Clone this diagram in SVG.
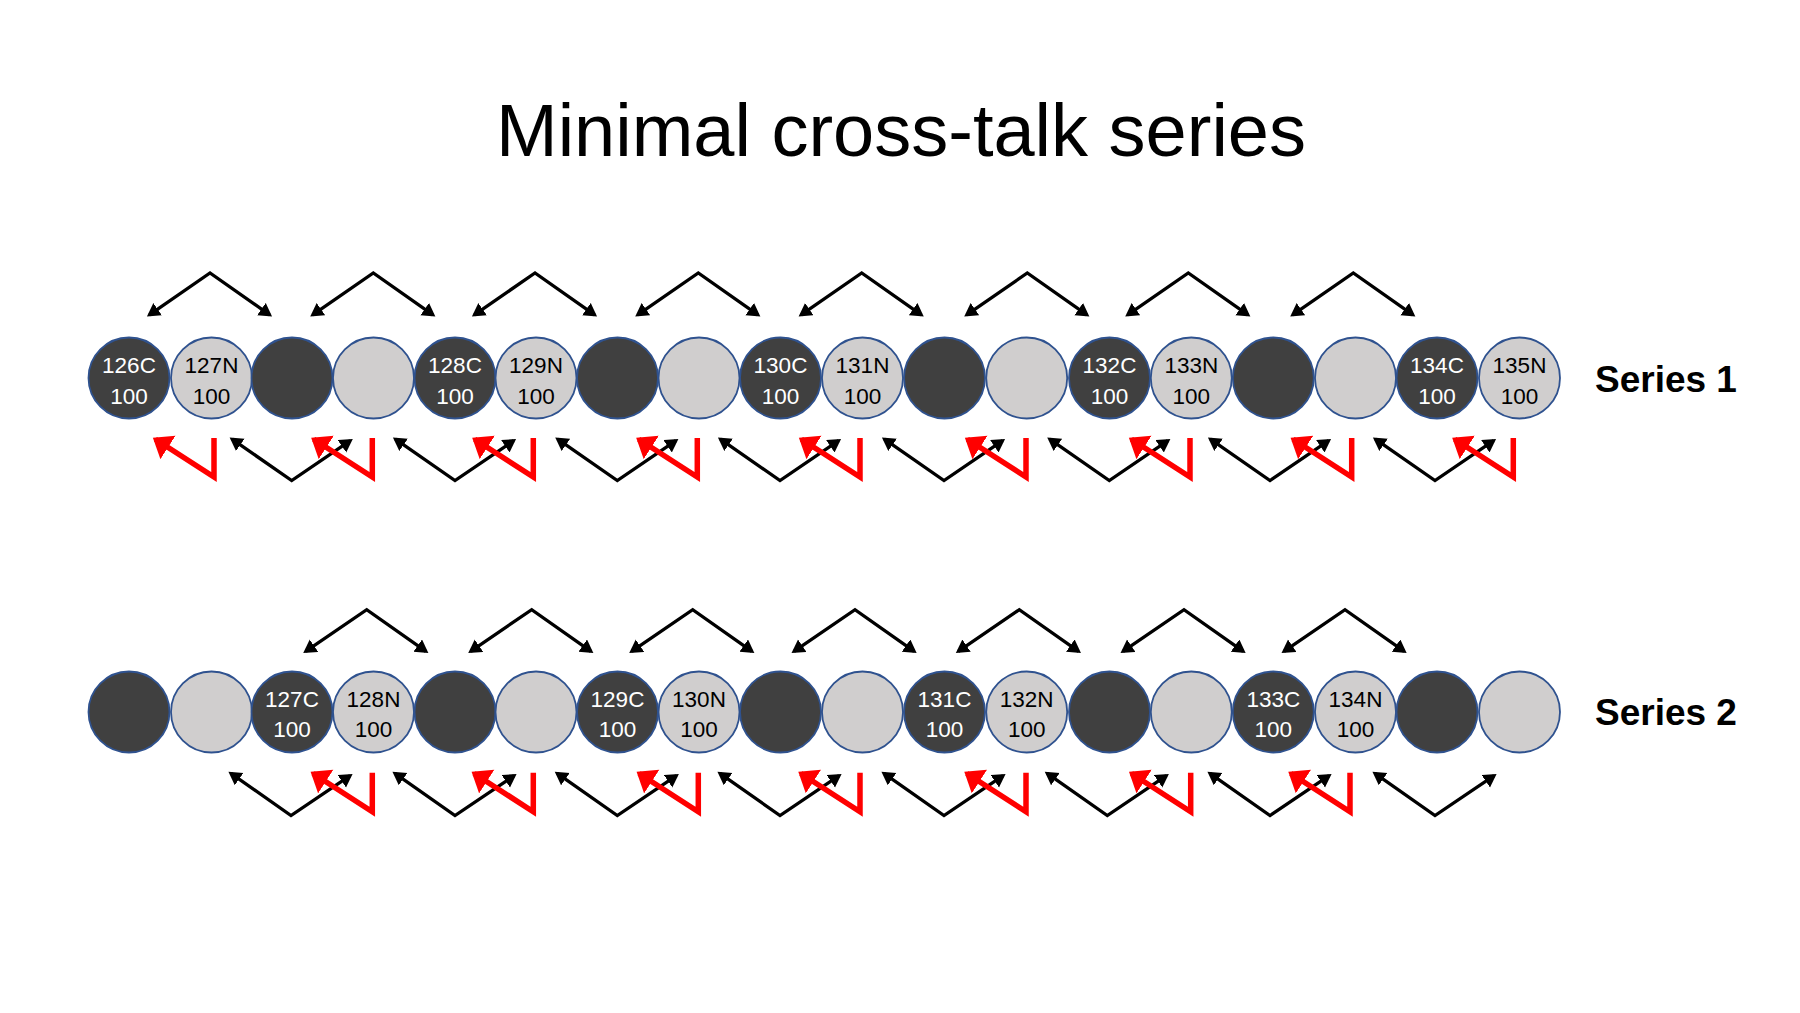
<svg xmlns="http://www.w3.org/2000/svg" width="1800" height="1013" viewBox="0 0 1800 1013">
<style>
.d{fill:#404040;stroke:#2f528f;stroke-width:1.8}
.l{fill:#d0cece;stroke:#2f528f;stroke-width:1.8}
.t{font-family:"Liberation Sans",Arial,sans-serif;font-size:22.5px;text-anchor:middle}
.tw{fill:#ffffff}
.tb{fill:#000000}
.blk{fill:none;stroke:#000;stroke-width:3.3;stroke-linejoin:miter}
.red{fill:none;stroke:#ff0000;stroke-width:5.5;stroke-linejoin:miter;stroke-miterlimit:10}
.lab{font-family:"Liberation Sans",Arial,sans-serif;font-weight:bold;font-size:37px;fill:#000}
</style>
<defs>
<marker id="ah" markerUnits="userSpaceOnUse" markerWidth="14" markerHeight="16" refX="10" refY="7.5" orient="auto-start-reverse"><path d="M0,0 L13,7.5 L0,15 z" fill="#000"/></marker>
<marker id="rh" markerUnits="userSpaceOnUse" markerWidth="20" markerHeight="30" refX="15" refY="14" orient="auto"><path d="M0,0 L18,14 L0,28 z" fill="#ff0000"/></marker>
</defs>
<rect width="1800" height="1013" fill="#ffffff"/>
<text id="title" x="901" y="156" font-family="'Liberation Sans',Arial,sans-serif" font-size="74" text-anchor="middle" fill="#000">Minimal cross-talk series</text>

<g id="series1">
<g id="s1n1"><circle class="d" cx="129" cy="378" r="40.5"/><text class="t tw" x="129" y="373">126C</text><text class="t tw" x="129" y="404">100</text></g>
<g id="s1n2"><circle class="l" cx="211.5" cy="378" r="40.5"/><text class="t tb" x="211.5" y="373">127N</text><text class="t tb" x="211.5" y="404">100</text></g>
<g id="s1n3"><circle class="d" cx="292" cy="378" r="40.5"/></g>
<g id="s1n4"><circle class="l" cx="373.5" cy="378" r="40.5"/></g>
<g id="s1n5"><circle class="d" cx="455" cy="378" r="40.5"/><text class="t tw" x="455" y="373">128C</text><text class="t tw" x="455" y="404">100</text></g>
<g id="s1n6"><circle class="l" cx="536" cy="378" r="40.5"/><text class="t tb" x="536" y="373">129N</text><text class="t tb" x="536" y="404">100</text></g>
<g id="s1n7"><circle class="d" cx="617.5" cy="378" r="40.5"/></g>
<g id="s1n8"><circle class="l" cx="699" cy="378" r="40.5"/></g>
<g id="s1n9"><circle class="d" cx="780.5" cy="378" r="40.5"/><text class="t tw" x="780.5" y="373">130C</text><text class="t tw" x="780.5" y="404">100</text></g>
<g id="s1n10"><circle class="l" cx="862.5" cy="378" r="40.5"/><text class="t tb" x="862.5" y="373">131N</text><text class="t tb" x="862.5" y="404">100</text></g>
<g id="s1n11"><circle class="d" cx="944.5" cy="378" r="40.5"/></g>
<g id="s1n12"><circle class="l" cx="1026.7" cy="378" r="40.5"/></g>
<g id="s1n13"><circle class="d" cx="1109.5" cy="378" r="40.5"/><text class="t tw" x="1109.5" y="373">132C</text><text class="t tw" x="1109.5" y="404">100</text></g>
<g id="s1n14"><circle class="l" cx="1191.3" cy="378" r="40.5"/><text class="t tb" x="1191.3" y="373">133N</text><text class="t tb" x="1191.3" y="404">100</text></g>
<g id="s1n15"><circle class="d" cx="1273.3" cy="378" r="40.5"/></g>
<g id="s1n16"><circle class="l" cx="1355.5" cy="378" r="40.5"/></g>
<g id="s1n17"><circle class="d" cx="1437" cy="378" r="40.5"/><text class="t tw" x="1437" y="373">134C</text><text class="t tw" x="1437" y="404">100</text></g>
<g id="s1n18"><circle class="l" cx="1519.5" cy="378" r="40.5"/><text class="t tb" x="1519.5" y="373">135N</text><text class="t tb" x="1519.5" y="404">100</text></g>
<text id="s1label" class="lab" x="1595" y="391.5">Series 1</text>
</g>

<g id="series2">
<g id="s2n1"><circle class="d" cx="129" cy="712" r="40.5"/></g>
<g id="s2n2"><circle class="l" cx="211.5" cy="712" r="40.5"/></g>
<g id="s2n3"><circle class="d" cx="292" cy="712" r="40.5"/><text class="t tw" x="292" y="707">127C</text><text class="t tw" x="292" y="737">100</text></g>
<g id="s2n4"><circle class="l" cx="373.5" cy="712" r="40.5"/><text class="t tb" x="373.5" y="707">128N</text><text class="t tb" x="373.5" y="737">100</text></g>
<g id="s2n5"><circle class="d" cx="455" cy="712" r="40.5"/></g>
<g id="s2n6"><circle class="l" cx="536" cy="712" r="40.5"/></g>
<g id="s2n7"><circle class="d" cx="617.5" cy="712" r="40.5"/><text class="t tw" x="617.5" y="707">129C</text><text class="t tw" x="617.5" y="737">100</text></g>
<g id="s2n8"><circle class="l" cx="699" cy="712" r="40.5"/><text class="t tb" x="699" y="707">130N</text><text class="t tb" x="699" y="737">100</text></g>
<g id="s2n9"><circle class="d" cx="780.5" cy="712" r="40.5"/></g>
<g id="s2n10"><circle class="l" cx="862.5" cy="712" r="40.5"/></g>
<g id="s2n11"><circle class="d" cx="944.5" cy="712" r="40.5"/><text class="t tw" x="944.5" y="707">131C</text><text class="t tw" x="944.5" y="737">100</text></g>
<g id="s2n12"><circle class="l" cx="1026.7" cy="712" r="40.5"/><text class="t tb" x="1026.7" y="707">132N</text><text class="t tb" x="1026.7" y="737">100</text></g>
<g id="s2n13"><circle class="d" cx="1109.5" cy="712" r="40.5"/></g>
<g id="s2n14"><circle class="l" cx="1191.3" cy="712" r="40.5"/></g>
<g id="s2n15"><circle class="d" cx="1273.3" cy="712" r="40.5"/><text class="t tw" x="1273.3" y="707">133C</text><text class="t tw" x="1273.3" y="737">100</text></g>
<g id="s2n16"><circle class="l" cx="1355.5" cy="712" r="40.5"/><text class="t tb" x="1355.5" y="707">134N</text><text class="t tb" x="1355.5" y="737">100</text></g>
<g id="s2n17"><circle class="d" cx="1437" cy="712" r="40.5"/></g>
<g id="s2n18"><circle class="l" cx="1519.5" cy="712" r="40.5"/></g>
<text id="s2label" class="lab" x="1595" y="725">Series 2</text>
</g>

<g id="connectors">
<g id="s1top" class="blk" marker-start="url(#ah)" marker-end="url(#ah)">
<path d="M149.4,314.8 L210,273 L269.6,314.8"/>
<path d="M312.7,314.8 L373.3,273 L432.9,314.8"/>
<path d="M474.4,314.8 L535,273 L594.6,314.8"/>
<path d="M637.7,314.8 L698.3,273 L757.9,314.8"/>
<path d="M801.1,314.8 L861.7,273 L921.3,314.8"/>
<path d="M966.7,314.8 L1027.3,273 L1086.9,314.8"/>
<path d="M1127.7,314.8 L1188.3,273 L1247.9,314.8"/>
<path d="M1292.7,314.8 L1353.3,273 L1412.9,314.8"/>
</g>
<g id="s1bot" class="blk" marker-start="url(#ah)" marker-end="url(#ah)">
<path d="M232.1,439.2 L291.7,480.5 L350.3,440.7"/>
<path d="M395.4,439.2 L455,480.5 L513.6,440.7"/>
<path d="M557.7,439.2 L617.3,480.5 L675.9,440.7"/>
<path d="M720.4,439.2 L780,480.5 L838.6,440.7"/>
<path d="M884.4,439.2 L944,480.5 L1002.6,440.7"/>
<path d="M1049.7,439.2 L1109.3,480.5 L1167.9,440.7"/>
<path d="M1210.4,439.2 L1270,480.5 L1328.6,440.7"/>
<path d="M1375.4,439.2 L1435,480.5 L1493.6,440.7"/>
</g>
<g id="s1red" class="red" marker-end="url(#rh)">
<path d="M214,438 L214,477 L155.4,439.3"/>
<path d="M372.3,438 L372.3,477 L313.7,439.3"/>
<path d="M533.3,438 L533.3,477 L474.7,439.3"/>
<path d="M697.3,438 L697.3,477 L638.7,439.3"/>
<path d="M860,438 L860,477 L801.4,439.3"/>
<path d="M1026,438 L1026,477 L967.4,439.3"/>
<path d="M1190,438 L1190,477 L1131.4,439.3"/>
<path d="M1351.7,438 L1351.7,477 L1293.1,439.3"/>
<path d="M1513.3,438 L1513.3,477 L1454.7,439.3"/>
</g>
<g id="s2top" class="blk" marker-start="url(#ah)" marker-end="url(#ah)">
<path d="M305.7,651.3 L366.7,609.7 L425.9,651.3"/>
<path d="M470.7,651.3 L531.7,609.7 L590.9,651.3"/>
<path d="M631.7,651.3 L692.7,609.7 L751.9,651.3"/>
<path d="M794,651.3 L855,609.7 L914.2,651.3"/>
<path d="M958.3,651.3 L1019.3,609.7 L1078.5,651.3"/>
<path d="M1123,651.3 L1184,609.7 L1243.2,651.3"/>
<path d="M1284,651.3 L1345,609.7 L1404.2,651.3"/>
</g>
<g id="s2bot" class="blk" marker-start="url(#ah)" marker-end="url(#ah)">
<path d="M230.9,773.4 L291,815.5 L350.1,775.7"/>
<path d="M394.9,773.4 L455,815.5 L514.1,775.7"/>
<path d="M557.2,773.4 L617.3,815.5 L676.4,775.7"/>
<path d="M719.9,773.4 L780,815.5 L839.1,775.7"/>
<path d="M883.9,773.4 L944,815.5 L1003.1,775.7"/>
<path d="M1047.2,773.4 L1107.3,815.5 L1166.4,775.7"/>
<path d="M1209.9,773.4 L1270,815.5 L1329.1,775.7"/>
<path d="M1374.9,773.4 L1435,815.5 L1494.1,775.7"/>
</g>
<g id="s2red" class="red" marker-end="url(#rh)">
<path d="M372.3,772.7 L372.3,811.7 L313.1,773.5"/>
<path d="M533.3,772.7 L533.3,811.7 L474.1,773.5"/>
<path d="M698.3,772.7 L698.3,811.7 L639.1,773.5"/>
<path d="M860,772.7 L860,811.7 L800.8,773.5"/>
<path d="M1026,772.7 L1026,811.7 L966.8,773.5"/>
<path d="M1190.7,772.7 L1190.7,811.7 L1131.5,773.5"/>
<path d="M1350,772.7 L1350,811.7 L1290.8,773.5"/>
</g>
</g>
</svg>
